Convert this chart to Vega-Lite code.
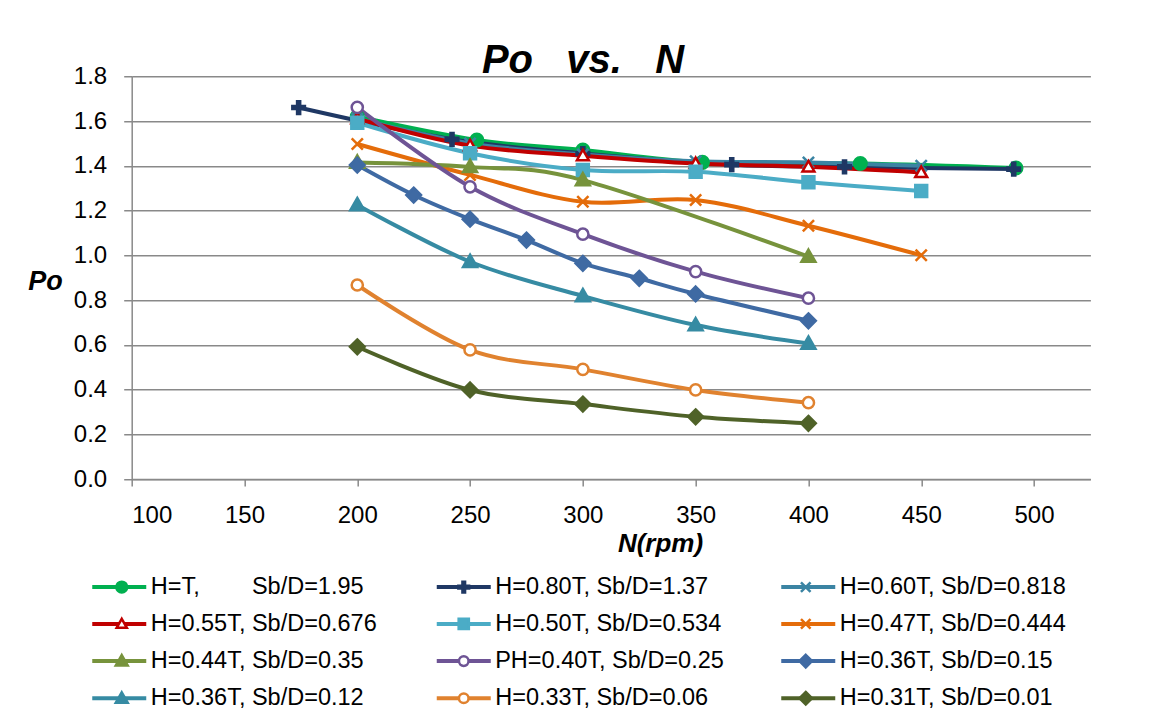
{
  "$schema": "https://vega.github.io/schema/vega-lite/v6.json",
  "width": 958.7,
  "height": 402.75,
  "autosize": {"type": "none"},
  "padding": {"left": 131.7, "top": 76.25, "right": 66.6, "bottom": 236},
  "background": "white",
  "title": {
    "text": "Po\u00a0\u00a0\u00a0vs.\u00a0\u00a0\u00a0N",
    "font": "Liberation Sans",
    "fontSize": 40,
    "fontStyle": "italic",
    "fontWeight": "bold",
    "color": "black",
    "anchor": "middle",
    "frame": "group",
    "baseline": "alphabetic",
    "offset": 3,
    "dx": -28,
    "dy": 52
  },
  "config": {
    "view": {"stroke": null},
    "axis": {
      "labelFont": "Liberation Sans",
      "labelFontSize": 24,
      "labelColor": "black",
      "titleFont": "Liberation Sans",
      "titleColor": "black",
      "titleFontStyle": "italic",
      "titleFontWeight": "bold",
      "domainColor": "#898989",
      "domainWidth": 1.5,
      "tickColor": "#898989",
      "tickWidth": 1.5,
      "gridColor": "#898989",
      "gridWidth": 1.5
    },
    "legend": {
      "orient": "none",
      "legendX": -24.2,
      "legendY": 498.7,
      "direction": "horizontal",
      "columns": 3,
      "gridAlign": "all",
      "columnPadding": 65,
      "rowPadding": 12.2,
      "padding": 0,
      "labelFont": "Liberation Sans",
      "labelFontSize": 23.5,
      "labelColor": "black",
      "labelLimit": 400,
      "labelOffset": 19.7,
      "symbolSize": 144,
      "symbolStrokeWidth": 2.5
    }
  },
  "data": {
    "values": [
      {"series": "H=T,\u00a0\u00a0\u00a0\u00a0\u00a0\u00a0\u00a0\u00a0Sb/D=1.95", "key": "H=T,\u00a0\u00a0\u00a0\u00a0\u00a0\u00a0\u00a0\u00a0Sb/D=1.95\u200b", "N": 200, "Po": 1.62},
      {"series": "H=T,\u00a0\u00a0\u00a0\u00a0\u00a0\u00a0\u00a0\u00a0Sb/D=1.95", "key": "H=T,\u00a0\u00a0\u00a0\u00a0\u00a0\u00a0\u00a0\u00a0Sb/D=1.95\u200b", "N": 253, "Po": 1.515},
      {"series": "H=T,\u00a0\u00a0\u00a0\u00a0\u00a0\u00a0\u00a0\u00a0Sb/D=1.95", "key": "H=T,\u00a0\u00a0\u00a0\u00a0\u00a0\u00a0\u00a0\u00a0Sb/D=1.95\u200b", "N": 300, "Po": 1.47},
      {"series": "H=T,\u00a0\u00a0\u00a0\u00a0\u00a0\u00a0\u00a0\u00a0Sb/D=1.95", "key": "H=T,\u00a0\u00a0\u00a0\u00a0\u00a0\u00a0\u00a0\u00a0Sb/D=1.95\u200b", "N": 353, "Po": 1.415},
      {"series": "H=T,\u00a0\u00a0\u00a0\u00a0\u00a0\u00a0\u00a0\u00a0Sb/D=1.95", "key": "H=T,\u00a0\u00a0\u00a0\u00a0\u00a0\u00a0\u00a0\u00a0Sb/D=1.95\u200b", "N": 423, "Po": 1.41},
      {"series": "H=T,\u00a0\u00a0\u00a0\u00a0\u00a0\u00a0\u00a0\u00a0Sb/D=1.95", "key": "H=T,\u00a0\u00a0\u00a0\u00a0\u00a0\u00a0\u00a0\u00a0Sb/D=1.95\u200b", "N": 492, "Po": 1.39},

      {"series": "H=0.80T, Sb/D=1.37", "key": "H=0.80T, Sb/D=1.37\u200b", "N": 174, "Po": 1.66},
      {"series": "H=0.80T, Sb/D=1.37", "key": "H=0.80T, Sb/D=1.37\u200b", "N": 242, "Po": 1.518},
      {"series": "H=0.80T, Sb/D=1.37", "key": "H=0.80T, Sb/D=1.37\u200b", "N": 300, "Po": 1.455},
      {"series": "H=0.80T, Sb/D=1.37", "key": "H=0.80T, Sb/D=1.37\u200b", "N": 366, "Po": 1.405},
      {"series": "H=0.80T, Sb/D=1.37", "key": "H=0.80T, Sb/D=1.37\u200b", "N": 416, "Po": 1.395},
      {"series": "H=0.80T, Sb/D=1.37", "key": "H=0.80T, Sb/D=1.37\u200b", "N": 491, "Po": 1.385},

      {"series": "H=0.60T, Sb/D=0.818", "key": "H=0.60T, Sb/D=0.818\u200b", "N": 200, "Po": 1.61},
      {"series": "H=0.60T, Sb/D=0.818", "key": "H=0.60T, Sb/D=0.818\u200b", "N": 250, "Po": 1.5},
      {"series": "H=0.60T, Sb/D=0.818", "key": "H=0.60T, Sb/D=0.818\u200b", "N": 300, "Po": 1.45},
      {"series": "H=0.60T, Sb/D=0.818", "key": "H=0.60T, Sb/D=0.818\u200b", "N": 350, "Po": 1.42},
      {"series": "H=0.60T, Sb/D=0.818", "key": "H=0.60T, Sb/D=0.818\u200b", "N": 400, "Po": 1.415},
      {"series": "H=0.60T, Sb/D=0.818", "key": "H=0.60T, Sb/D=0.818\u200b", "N": 450, "Po": 1.4},

      {"series": "H=0.55T, Sb/D=0.676", "key": "H=0.55T, Sb/D=0.676\u200b", "N": 200, "Po": 1.61},
      {"series": "H=0.55T, Sb/D=0.676", "key": "H=0.55T, Sb/D=0.676\u200b", "N": 250, "Po": 1.49},
      {"series": "H=0.55T, Sb/D=0.676", "key": "H=0.55T, Sb/D=0.676\u200b", "N": 300, "Po": 1.445},
      {"series": "H=0.55T, Sb/D=0.676", "key": "H=0.55T, Sb/D=0.676\u200b", "N": 350, "Po": 1.41},
      {"series": "H=0.55T, Sb/D=0.676", "key": "H=0.55T, Sb/D=0.676\u200b", "N": 400, "Po": 1.395},
      {"series": "H=0.55T, Sb/D=0.676", "key": "H=0.55T, Sb/D=0.676\u200b", "N": 450, "Po": 1.37},

      {"series": "H=0.50T, Sb/D=0.534", "key": "H=0.50T, Sb/D=0.534\u200b", "N": 200, "Po": 1.592},
      {"series": "H=0.50T, Sb/D=0.534", "key": "H=0.50T, Sb/D=0.534\u200b", "N": 250, "Po": 1.456},
      {"series": "H=0.50T, Sb/D=0.534", "key": "H=0.50T, Sb/D=0.534\u200b", "N": 300, "Po": 1.381},
      {"series": "H=0.50T, Sb/D=0.534", "key": "H=0.50T, Sb/D=0.534\u200b", "N": 350, "Po": 1.373},
      {"series": "H=0.50T, Sb/D=0.534", "key": "H=0.50T, Sb/D=0.534\u200b", "N": 400, "Po": 1.326},
      {"series": "H=0.50T, Sb/D=0.534", "key": "H=0.50T, Sb/D=0.534\u200b", "N": 450, "Po": 1.287},

      {"series": "H=0.47T, Sb/D=0.444", "key": "H=0.47T, Sb/D=0.444\u200b", "N": 200, "Po": 1.497},
      {"series": "H=0.47T, Sb/D=0.444", "key": "H=0.47T, Sb/D=0.444\u200b", "N": 250, "Po": 1.359},
      {"series": "H=0.47T, Sb/D=0.444", "key": "H=0.47T, Sb/D=0.444\u200b", "N": 300, "Po": 1.239},
      {"series": "H=0.47T, Sb/D=0.444", "key": "H=0.47T, Sb/D=0.444\u200b", "N": 350, "Po": 1.247},
      {"series": "H=0.47T, Sb/D=0.444", "key": "H=0.47T, Sb/D=0.444\u200b", "N": 400, "Po": 1.132},
      {"series": "H=0.47T, Sb/D=0.444", "key": "H=0.47T, Sb/D=0.444\u200b", "N": 450, "Po": 1.0},

      {"series": "H=0.44T, Sb/D=0.35", "key": "H=0.44T, Sb/D=0.35\u200b", "N": 200, "Po": 1.415},
      {"series": "H=0.44T, Sb/D=0.35", "key": "H=0.44T, Sb/D=0.35\u200b", "N": 250, "Po": 1.395},
      {"series": "H=0.44T, Sb/D=0.35", "key": "H=0.44T, Sb/D=0.35\u200b", "N": 300, "Po": 1.336},
      {"series": "H=0.44T, Sb/D=0.35", "key": "H=0.44T, Sb/D=0.35\u200b", "N": 400, "Po": 0.994},

      {"series": "PH=0.40T, Sb/D=0.25", "key": "PH=0.40T, Sb/D=0.25\u200b", "N": 200, "Po": 1.661},
      {"series": "PH=0.40T, Sb/D=0.25", "key": "PH=0.40T, Sb/D=0.25\u200b", "N": 250, "Po": 1.306},
      {"series": "PH=0.40T, Sb/D=0.25", "key": "PH=0.40T, Sb/D=0.25\u200b", "N": 300, "Po": 1.094},
      {"series": "PH=0.40T, Sb/D=0.25", "key": "PH=0.40T, Sb/D=0.25\u200b", "N": 350, "Po": 0.927},
      {"series": "PH=0.40T, Sb/D=0.25", "key": "PH=0.40T, Sb/D=0.25\u200b", "N": 400, "Po": 0.808},

      {"series": "H=0.36T, Sb/D=0.15", "key": "H=0.36T, Sb/D=0.15\u200b", "N": 200, "Po": 1.403},
      {"series": "H=0.36T, Sb/D=0.15", "key": "H=0.36T, Sb/D=0.15\u200b", "N": 225, "Po": 1.269},
      {"series": "H=0.36T, Sb/D=0.15", "key": "H=0.36T, Sb/D=0.15\u200b", "N": 250, "Po": 1.161},
      {"series": "H=0.36T, Sb/D=0.15", "key": "H=0.36T, Sb/D=0.15\u200b", "N": 275, "Po": 1.068},
      {"series": "H=0.36T, Sb/D=0.15", "key": "H=0.36T, Sb/D=0.15\u200b", "N": 300, "Po": 0.964},
      {"series": "H=0.36T, Sb/D=0.15", "key": "H=0.36T, Sb/D=0.15\u200b", "N": 325, "Po": 0.897},
      {"series": "H=0.36T, Sb/D=0.15", "key": "H=0.36T, Sb/D=0.15\u200b", "N": 350, "Po": 0.827},
      {"series": "H=0.36T, Sb/D=0.15", "key": "H=0.36T, Sb/D=0.15\u200b", "N": 400, "Po": 0.707},

      {"series": "H=0.36T, Sb/D=0.12", "key": "H=0.36T, Sb/D=0.12\u200b", "N": 200, "Po": 1.225},
      {"series": "H=0.36T, Sb/D=0.12", "key": "H=0.36T, Sb/D=0.12\u200b", "N": 250, "Po": 0.971},
      {"series": "H=0.36T, Sb/D=0.12", "key": "H=0.36T, Sb/D=0.12\u200b", "N": 300, "Po": 0.818},
      {"series": "H=0.36T, Sb/D=0.12", "key": "H=0.36T, Sb/D=0.12\u200b", "N": 350, "Po": 0.688},
      {"series": "H=0.36T, Sb/D=0.12", "key": "H=0.36T, Sb/D=0.12\u200b", "N": 400, "Po": 0.606},

      {"series": "H=0.33T, Sb/D=0.06", "key": "H=0.33T, Sb/D=0.06\u200b", "N": 200, "Po": 0.867},
      {"series": "H=0.33T, Sb/D=0.06", "key": "H=0.33T, Sb/D=0.06\u200b", "N": 250, "Po": 0.577},
      {"series": "H=0.33T, Sb/D=0.06", "key": "H=0.33T, Sb/D=0.06\u200b", "N": 300, "Po": 0.49},
      {"series": "H=0.33T, Sb/D=0.06", "key": "H=0.33T, Sb/D=0.06\u200b", "N": 350, "Po": 0.398},
      {"series": "H=0.33T, Sb/D=0.06", "key": "H=0.33T, Sb/D=0.06\u200b", "N": 400, "Po": 0.341},

      {"series": "H=0.31T, Sb/D=0.01", "key": "H=0.31T, Sb/D=0.01\u200b", "N": 200, "Po": 0.591},
      {"series": "H=0.31T, Sb/D=0.01", "key": "H=0.31T, Sb/D=0.01\u200b", "N": 250, "Po": 0.398},
      {"series": "H=0.31T, Sb/D=0.01", "key": "H=0.31T, Sb/D=0.01\u200b", "N": 300, "Po": 0.335},
      {"series": "H=0.31T, Sb/D=0.01", "key": "H=0.31T, Sb/D=0.01\u200b", "N": 350, "Po": 0.278},
      {"series": "H=0.31T, Sb/D=0.01", "key": "H=0.31T, Sb/D=0.01\u200b", "N": 400, "Po": 0.249}
    ]
  },
  "encoding": {
    "x": {
      "field": "N",
      "type": "quantitative",
      "scale": {"domain": [100, 525], "nice": false, "zero": false},
      "axis": {
        "values": [100, 150, 200, 250, 300, 350, 400, 450, 500],
        "format": "d",
        "grid": false,
        "tickSize": 7,
        "labelBaseline": "alphabetic",
        "labelPadding": 36.7,
        "title": "N(rpm)",
        "titleFontSize": 26,
        "titleX": 528.3,
        "titleY": 72.7,
        "titleAlign": "center",
        "titleBaseline": "alphabetic"
      }
    },
    "y": {
      "field": "Po",
      "type": "quantitative",
      "scale": {"domain": [0, 1.8], "nice": false},
      "axis": {
        "values": [0, 0.2, 0.4, 0.6, 0.8, 1.0, 1.2, 1.4, 1.6, 1.8],
        "format": ".1f",
        "grid": true,
        "tickSize": 8,
        "labelPadding": 17,
        "title": "Po",
        "titleFontSize": 27,
        "titleAngle": 0,
        "titleX": -86.7,
        "titleY": 212.75,
        "titleAlign": "center",
        "titleBaseline": "alphabetic"
      }
    }
  },
  "layer": [
    {
      "mark": {"type": "line", "interpolate": "cardinal", "strokeWidth": 4},
      "encoding": {
        "color": {
          "field": "series",
          "type": "nominal",
          "scale": {
            "domain": [
              "H=T,\u00a0\u00a0\u00a0\u00a0\u00a0\u00a0\u00a0\u00a0Sb/D=1.95", "H=0.80T, Sb/D=1.37", "H=0.60T, Sb/D=0.818",
              "H=0.55T, Sb/D=0.676", "H=0.50T, Sb/D=0.534", "H=0.47T, Sb/D=0.444",
              "H=0.44T, Sb/D=0.35", "PH=0.40T, Sb/D=0.25", "H=0.36T, Sb/D=0.15",
              "H=0.36T, Sb/D=0.12", "H=0.33T, Sb/D=0.06", "H=0.31T, Sb/D=0.01"
            ],
            "range": ["#00B050", "#1F3864", "#3B84A3", "#C00000", "#4BACC6", "#E46C0A", "#77933C", "#6E5495", "#3F6AA3", "#368BA3", "#E0822F", "#4F6228"]
          },
          "legend": {
            "title": null,
            "symbolType": "M-4.5,0H4.5",
            "symbolStrokeWidth": 4,
            "symbolOpacity": 1,
            "columnPadding": 48.5
          }
        }
      }
    },
    {
      "mark": {"type": "point", "filled": false, "opacity": 1, "strokeWidth": 2.5, "size": 196},
      "encoding": {
        "stroke": {
          "field": "key",
          "type": "nominal",
          "scale": {
            "domain": [
              "H=T,\u00a0\u00a0\u00a0\u00a0\u00a0\u00a0\u00a0\u00a0Sb/D=1.95\u200b", "H=0.80T, Sb/D=1.37\u200b", "H=0.60T, Sb/D=0.818\u200b",
              "H=0.55T, Sb/D=0.676\u200b", "H=0.50T, Sb/D=0.534\u200b", "H=0.47T, Sb/D=0.444\u200b",
              "H=0.44T, Sb/D=0.35\u200b", "PH=0.40T, Sb/D=0.25\u200b", "H=0.36T, Sb/D=0.15\u200b",
              "H=0.36T, Sb/D=0.12\u200b", "H=0.33T, Sb/D=0.06\u200b", "H=0.31T, Sb/D=0.01\u200b"
            ],
            "range": ["#00B050", "#1F3864", "#3B84A3", "#C00000", "#4BACC6", "#E46C0A", "#77933C", "#6E5495", "#3F6AA3", "#368BA3", "#E0822F", "#4F6228"]
          },
          "legend": {
            "title": null,
            "labelExpr": "'\u00a0'",
            "labelOpacity": 0,
            "symbolOpacity": 1,
            "symbolStrokeWidth": 2.5,
            "columnPadding": 298,
            "legendX": -21.7
          }
        },
        "fill": {
          "field": "key",
          "type": "nominal",
          "scale": {
            "domain": [
              "H=T,\u00a0\u00a0\u00a0\u00a0\u00a0\u00a0\u00a0\u00a0Sb/D=1.95\u200b", "H=0.80T, Sb/D=1.37\u200b", "H=0.60T, Sb/D=0.818\u200b",
              "H=0.55T, Sb/D=0.676\u200b", "H=0.50T, Sb/D=0.534\u200b", "H=0.47T, Sb/D=0.444\u200b",
              "H=0.44T, Sb/D=0.35\u200b", "PH=0.40T, Sb/D=0.25\u200b", "H=0.36T, Sb/D=0.15\u200b",
              "H=0.36T, Sb/D=0.12\u200b", "H=0.33T, Sb/D=0.06\u200b", "H=0.31T, Sb/D=0.01\u200b"
            ],
            "range": ["#00B050", "#1F3864", "#3B84A3", "#FFFFFF", "#4BACC6", "#E46C0A", "#77933C", "#FFFFFF", "#3F6AA3", "#368BA3", "#FFFFFF", "#4F6228"]
          },
          "legend": {
            "title": null,
            "labelExpr": "'\u00a0'",
            "labelOpacity": 0,
            "symbolOpacity": 1,
            "symbolStrokeWidth": 2.5,
            "columnPadding": 298,
            "legendX": -21.7
          }
        },
        "shape": {
          "field": "key",
          "type": "nominal",
          "scale": {
            "domain": [
              "H=T,\u00a0\u00a0\u00a0\u00a0\u00a0\u00a0\u00a0\u00a0Sb/D=1.95\u200b", "H=0.80T, Sb/D=1.37\u200b", "H=0.60T, Sb/D=0.818\u200b",
              "H=0.55T, Sb/D=0.676\u200b", "H=0.50T, Sb/D=0.534\u200b", "H=0.47T, Sb/D=0.444\u200b",
              "H=0.44T, Sb/D=0.35\u200b", "PH=0.40T, Sb/D=0.25\u200b", "H=0.36T, Sb/D=0.15\u200b",
              "H=0.36T, Sb/D=0.12\u200b", "H=0.33T, Sb/D=0.06\u200b", "H=0.31T, Sb/D=0.01\u200b"
            ],
            "range": [
              "M-0.9,0A0.9,0.9 0 1,1 0.9,0A0.9,0.9 0 1,1 -0.9,0Z",
              "M-0.22,-0.9H0.22V-0.22H0.9V0.22H0.22V0.9H-0.22V0.22H-0.9V-0.22H-0.22Z",
              "M-0.8,-0.8L0.8,0.8M-0.8,0.8L0.8,-0.8",
              "M0,-0.85L0.85,0.65H-0.85Z",
              "M-0.85,-0.85H0.85V0.85H-0.85Z",
              "M-0.8,-0.8L0.8,0.8M-0.8,0.8L0.8,-0.8",
              "M0,-1L1,0.75H-1Z",
              "M-0.8,0A0.8,0.8 0 1,1 0.8,0A0.8,0.8 0 1,1 -0.8,0Z",
              "M0,-1.05L1.05,0L0,1.05L-1.05,0Z",
              "M0,-1L1,0.75H-1Z",
              "M-0.8,0A0.8,0.8 0 1,1 0.8,0A0.8,0.8 0 1,1 -0.8,0Z",
              "M0,-1.05L1.05,0L0,1.05L-1.05,0Z"
            ]
          },
          "legend": {
            "title": null,
            "labelExpr": "'\u00a0'",
            "labelOpacity": 0,
            "symbolOpacity": 1,
            "symbolStrokeWidth": 2.5,
            "columnPadding": 298,
            "legendX": -21.7
          }
        }
      }
    }
  ]
}
